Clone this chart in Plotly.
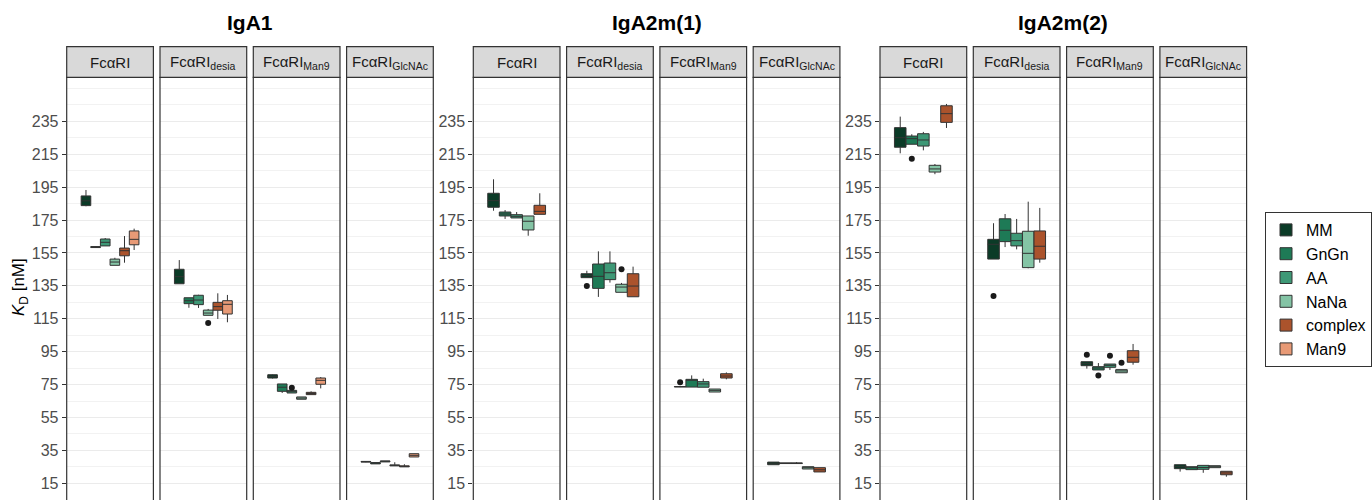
import plotly.graph_objects as go

# ---------------- data ----------------
GENOTYPES = ["MM", "GnGn", "AA", "NaNa", "complex", "Man9"]
COLORS = ["#0B3B27", "#1E7A56", "#3E9876", "#84C4A5", "#AB532C", "#E89A76"]
ISOTYPES = ["IgA1", "IgA2m(1)", "IgA2m(2)"]
RECEPTORS = ["FcaRI", "desia", "Man9", "GlcNAc"]
RECEPTOR_LABELS = ["FcαRI", "FcαRI<sub>desia</sub>", "FcαRI<sub>Man9</sub>", "FcαRI<sub>GlcNAc</sub>"]
Y_TICKS = [15, 35, 55, 75, 95, 115, 135, 155, 175, 195, 215, 235]

# each entry: (lower whisker, q1, median, q3, upper whisker), in GENOTYPES order
IGA1_FCARI = [(183.4, 183.8, 186.7, 189.7, 193.3), (158.2, 158.3, 158.6, 158.9, 159.0),
              (159.3, 159.3, 161.5, 163.5, 164.1), (147.5, 147.5, 149.5, 151.3, 152.1),
              (149.1, 153.3, 156.4, 158.0, 165.3), (156.8, 160.0, 163.3, 168.4, 169.8)]
IGA1_DESIA = [(136.3, 136.3, 140.6, 145.1, 150.7), (121.7, 124.2, 126.0, 127.8, 127.8),
              (121.6, 123.6, 126.4, 129.3, 129.6), (117.1, 117.1, 118.5, 120.3, 121.0),
              (114.9, 120.2, 122.4, 125.0, 130.5), (112.9, 117.9, 123.8, 126.0, 129.5)]
IGA1_MAN9 = [(78.7, 79.0, 80.0, 81.0, 81.2), (69.9, 70.9, 73.4, 75.4, 75.4),
             (69.9, 69.9, 70.7, 71.5, 71.5), (66.1, 66.1, 66.8, 67.5, 67.5),
             (68.9, 68.9, 69.6, 70.3, 70.9), (72.7, 75.2, 77.6, 79.0, 79.6)]
IGA1_GLCNAC = [(27.8, 27.9, 28.1, 28.3, 28.4), (26.8, 26.8, 27.2, 27.6, 27.6),
               (28.0, 28.0, 28.4, 28.6, 28.6), (25.5, 25.6, 25.9, 26.2, 27.8),
               (25.0, 25.0, 25.3, 25.6, 26.6), (31.0, 31.0, 32.0, 33.0, 33.0)]

IGA2M1_FCARI = [(180.7, 182.8, 186.8, 191.3, 199.8), (175.7, 177.5, 178.7, 179.9, 181.1),
                (176.3, 176.3, 177.3, 178.3, 179.9), (165.5, 169.0, 174.3, 177.5, 177.5),
                (178.5, 178.5, 180.3, 184.0, 191.3)]
IGA2M1_DESIA = [(140.0, 140.0, 141.2, 142.4, 144.2), (128.3, 133.5, 140.8, 148.3, 156.0),
                (137.0, 138.8, 143.0, 148.9, 156.0), (131.1, 131.1, 134.3, 136.0, 136.8),
                (128.4, 128.4, 134.9, 142.4, 146.7)]
IGA2M1_MAN9 = [(73.5, 73.6, 73.7, 73.8, 73.9), (73.5, 73.5, 77.6, 78.2, 80.6),
               (73.4, 73.4, 75.4, 76.8, 78.6), (70.5, 70.5, 71.5, 72.3, 72.3),
               (78.2, 79.0, 80.2, 81.6, 82.4)]
IGA2M1_GLCNAC = [(26.3, 26.3, 27.2, 27.9, 27.9), (27.0, 27.0, 27.2, 27.4, 27.4),
                 (27.0, 27.0, 27.2, 27.4, 27.9), (23.7, 23.7, 24.5, 25.1, 25.1),
                 (21.9, 21.9, 23.2, 24.5, 24.5)]

IGA2M2_FCARI = [(215.6, 219.3, 225.1, 231.2, 237.9), (221.1, 221.1, 224.5, 226.1, 227.2),
                (217.4, 220.0, 223.7, 227.5, 228.6), (202.9, 204.2, 206.1, 208.3, 209.1),
                (231.0, 234.4, 239.7, 244.5, 245.6)]
IGA2M2_DESIA = [(151.3, 151.3, 160.3, 163.3, 173.1), (158.6, 161.9, 168.8, 175.8, 178.7),
                (157.2, 159.3, 162.5, 167.0, 175.7), (145.7, 146.1, 154.8, 168.2, 186.2),
                (149.1, 151.3, 159.1, 168.4, 182.4)]
IGA2M2_MAN9 = [(84.7, 86.5, 87.7, 88.9, 88.9), (83.9, 83.9, 85.1, 85.9, 88.1),
               (83.9, 85.5, 86.7, 87.5, 87.5), (82.2, 82.2, 83.3, 84.1, 84.1),
               (87.1, 88.6, 91.6, 95.6, 99.7)]
IGA2M2_GLCNAC = [(22.1, 23.9, 25.1, 26.3, 26.3), (23.3, 23.3, 24.5, 25.1, 25.1),
                 (21.4, 23.5, 24.6, 25.9, 25.9), (24.5, 24.5, 25.1, 25.7, 25.7),
                 (19.0, 20.2, 21.3, 22.3, 22.3)]

# outliers: (isotype, receptor, genotype, value)
OUTLIERS = [("IgA1", "desia", "NaNa", 112.4),
            ("IgA1", "Man9", "AA", 73.1),
            ("IgA2m(1)", "desia", "MM", 134.9),
            ("IgA2m(1)", "desia", "NaNa", 145.1),
            ("IgA2m(1)", "Man9", "MM", 76.4),
            ("IgA2m(2)", "FcaRI", "GnGn", 212.3),
            ("IgA2m(2)", "desia", "MM", 128.9),
            ("IgA2m(2)", "Man9", "MM", 93.2),
            ("IgA2m(2)", "Man9", "GnGn", 80.6),
            ("IgA2m(2)", "Man9", "AA", 92.6),
            ("IgA2m(2)", "Man9", "NaNa", 88.3)]

PANELS = {
    ("IgA1", "FcaRI"): IGA1_FCARI, ("IgA1", "desia"): IGA1_DESIA,
    ("IgA1", "Man9"): IGA1_MAN9, ("IgA1", "GlcNAc"): IGA1_GLCNAC,
    ("IgA2m(1)", "FcaRI"): IGA2M1_FCARI, ("IgA2m(1)", "desia"): IGA2M1_DESIA,
    ("IgA2m(1)", "Man9"): IGA2M1_MAN9, ("IgA2m(1)", "GlcNAc"): IGA2M1_GLCNAC,
    ("IgA2m(2)", "FcaRI"): IGA2M2_FCARI, ("IgA2m(2)", "desia"): IGA2M2_DESIA,
    ("IgA2m(2)", "Man9"): IGA2M2_MAN9, ("IgA2m(2)", "GlcNAc"): IGA2M2_GLCNAC,
}

# ---------------- layout geometry (pixels) ----------------
W, H = 1372, 500
GROUP_LEFT = [66.7, 473.3, 880.0]
PANEL_W = 86.7
PANEL_STEP = 93.3
PANEL_TOP_PX = 77.3
STRIP_TOP_PX = 46.7
PT = (H - PANEL_TOP_PX) / H
ST = (H - STRIP_TOP_PX) / H
Y_RANGE = [4.85, 261.8]

FONT = "Liberation Sans, Arial, sans-serif"
BORDER = "#333333"

fig = go.Figure()
layout = {}
shapes = []
annotations = []
legend_shown = set()

for gi, iso in enumerate(ISOTYPES):
    for ri, rec in enumerate(RECEPTORS):
        k = gi * 4 + ri + 1
        xname = "x" if k == 1 else f"x{k}"
        yname = "y" if k == 1 else f"y{k}"
        x0 = (GROUP_LEFT[gi] + ri * PANEL_STEP) / W
        x1 = (GROUP_LEFT[gi] + ri * PANEL_STEP + PANEL_W) / W
        first = ri == 0
        layout["xaxis" if k == 1 else f"xaxis{k}"] = dict(
            domain=[x0, x1], anchor=yname, type="category", range=[-0.6, 0.6],
            visible=False, fixedrange=True)
        layout["yaxis" if k == 1 else f"yaxis{k}"] = dict(
            domain=[0, PT], anchor=xname, range=Y_RANGE, tickmode="array",
            tickvals=Y_TICKS, ticktext=[str(v) for v in Y_TICKS],
            showticklabels=first, ticks="outside" if first else "",
            ticklen=4, tickwidth=1, tickcolor=BORDER,
            tickfont=dict(family=FONT, size=16, color="#4D4D4D"),
            showgrid=True, gridcolor="#EBEBEB", gridwidth=1.2,
            minor=dict(tick0=5, dtick=10, showgrid=True, gridcolor="#F2F2F2",
                       gridwidth=1, ticks=""),
            zeroline=False, showline=False, fixedrange=True)

        stats = PANELS[(iso, rec)]
        for j, st in enumerate(stats):
            g = GENOTYPES[j]
            lo, q1, med, q3, hi = st
            fig.add_trace(go.Box(
                x=[rec], q1=[q1], median=[med], q3=[q3],
                lowerfence=[lo], upperfence=[hi],
                name=g, offsetgroup=g, alignmentgroup="a",
                fillcolor=COLORS[j], line=dict(color=BORDER, width=1),
                whiskerwidth=0, boxpoints=False,
                showlegend=g not in legend_shown,
                xaxis=xname, yaxis=yname, hoverinfo="y"))
            legend_shown.add(g)
        for (oiso, orec, og, ov) in OUTLIERS:
            if oiso == iso and orec == rec:
                fig.add_trace(go.Box(
                    x=[rec], y=[ov], name=og, offsetgroup=og, alignmentgroup="a",
                    boxpoints="all", jitter=0, pointpos=0,
                    fillcolor="rgba(0,0,0,0)", line=dict(color="rgba(0,0,0,0)", width=0),
                    marker=dict(color="#1A1A1A", size=6),
                    whiskerwidth=0, showlegend=False,
                    xaxis=xname, yaxis=yname, hoverinfo="y"))

        # panel border and strip
        shapes.append(dict(type="rect", xref="paper", yref="paper",
                           x0=x0, x1=x1, y0=-0.05, y1=PT,
                           line=dict(color=BORDER, width=1.2),
                           fillcolor="rgba(0,0,0,0)", layer="above"))
        shapes.append(dict(type="rect", xref="paper", yref="paper",
                           x0=x0, x1=x1, y0=PT, y1=ST,
                           line=dict(color=BORDER, width=1.2),
                           fillcolor="#D9D9D9", layer="above"))
        annotations.append(dict(text=RECEPTOR_LABELS[ri], xref="paper", yref="paper",
                                x=(x0 + x1) / 2, y=(PT + ST) / 2,
                                xanchor="center", yanchor="middle", showarrow=False,
                                font=dict(family=FONT, size=15, color="#1A1A1A")))

    gx = (GROUP_LEFT[gi] + (GROUP_LEFT[gi] + 3 * PANEL_STEP + PANEL_W)) / 2 / W
    annotations.append(dict(text=f"<b>{iso}</b>", xref="paper", yref="paper",
                            x=gx, y=(H - 22) / H, xanchor="center", yanchor="middle",
                            showarrow=False,
                            font=dict(family=FONT, size=21, color="#000000")))

annotations.append(dict(text="<i>K</i><sub>D</sub> [nM]", xref="paper", yref="paper",
                        x=20 / W, y=(H - 287) / H, xanchor="center", yanchor="middle",
                        textangle=-90, showarrow=False,
                        font=dict(family=FONT, size=17, color="#000000")))

fig.update_layout(
    width=W, height=H, autosize=False,
    margin=dict(l=0, r=0, t=0, b=0, pad=0, autoexpand=False),
    paper_bgcolor="white", plot_bgcolor="white",
    boxmode="group", boxgap=0.2, boxgroupgap=0,
    shapes=shapes, annotations=annotations,
    legend=dict(x=1265 / W, y=(H - 212) / H, xanchor="left", yanchor="top",
                bgcolor="white", bordercolor=BORDER, borderwidth=1,
                font=dict(family=FONT, size=16, color="#000000"),
                tracegroupgap=0, traceorder="normal"),
    showlegend=True,
    **layout)

fig.write_html("out.html", config={"displayModeBar": False},
               post_script="document.body.style.margin='0';document.body.style.overflow='hidden';")
